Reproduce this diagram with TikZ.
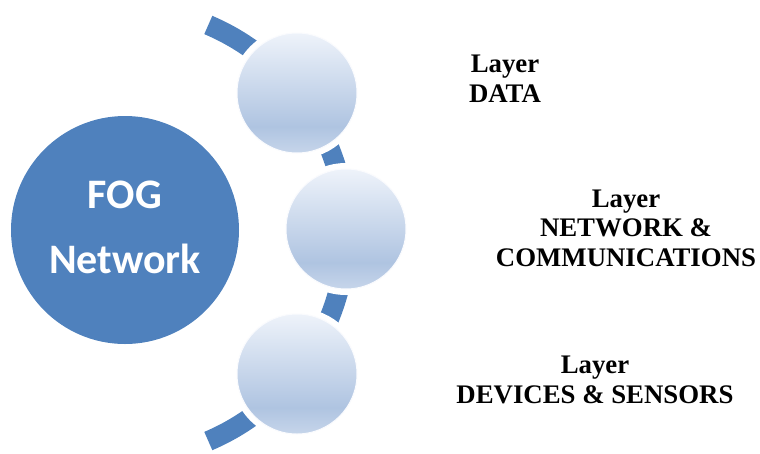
\documentclass[tikz,border=0pt]{standalone}
\usepackage{fontspec}
\newfontfamily\labelfont{Liberation Serif}
\newfontfamily\hubfont{Carlito}
\definecolor{hubblue}{HTML}{4F81BD}
\definecolor{ballTop}{HTML}{EEF3FA}
\definecolor{ballDark}{HTML}{AFC4E1}
\definecolor{ballEdge}{HTML}{C6D5EA}
\pgfdeclareverticalshading{layerball}{100bp}{%
  color(0bp)=(ballEdge); color(25bp)=(ballEdge); color(36bp)=(ballDark);
  color(75bp)=(ballTop); color(100bp)=(ballTop)}
\tikzset{
  hub/.style={circle, fill=hubblue, minimum size=228pt, inner sep=0pt},
  hubtext/.style={text=white, font=\hubfont\bfseries\fontsize{42}{65}\selectfont, align=center},
  layerball/.style={circle, minimum size=120pt, inner sep=0pt, shading=layerball,
    draw=white!70!ballTop, line width=1pt,
    preaction={draw=white, line width=12pt}},
  layertext/.style={font=\labelfont\bfseries\fontsize{26.8}{29.5}\selectfont, align=center, anchor=base},
  band/.style={draw=hubblue, line width=20pt}
}
\begin{document}
\begin{tikzpicture}[x=1pt, y=-1pt]
  \useasboundingbox (0,0) rectangle (760,453);
  % central hub
  \node[hub] (fog) at (125,230) {};
  % multi-line nodes: the base anchor sits on the last line
  \node[hubtext, anchor=base] (fogtext) at (125,273) {FOG\\Network};
  % curved band carrying the layers
  \coordinate (bandc) at (120,233);
  \draw[band] ([shift={(-67:226)}]bandc) arc[start angle=-67, end angle=67, radius=226];
  % layer balls
  \node[layerball] (data) at (297,93) {};
  \node[layerball] (net) at (346,229) {};
  \node[layerball] (dev) at (297,374) {};
  % layer labels
  \node[layertext] (datatext) at (505,102) {Layer\\DATA};
  \node[layertext] (nettext) at (626,266) {Layer\\NETWORK \&\\COMMUNICATIONS};
  \node[layertext] (devtext) at (595,403) {Layer\\DEVICES \& SENSORS};
\end{tikzpicture}
\end{document}
